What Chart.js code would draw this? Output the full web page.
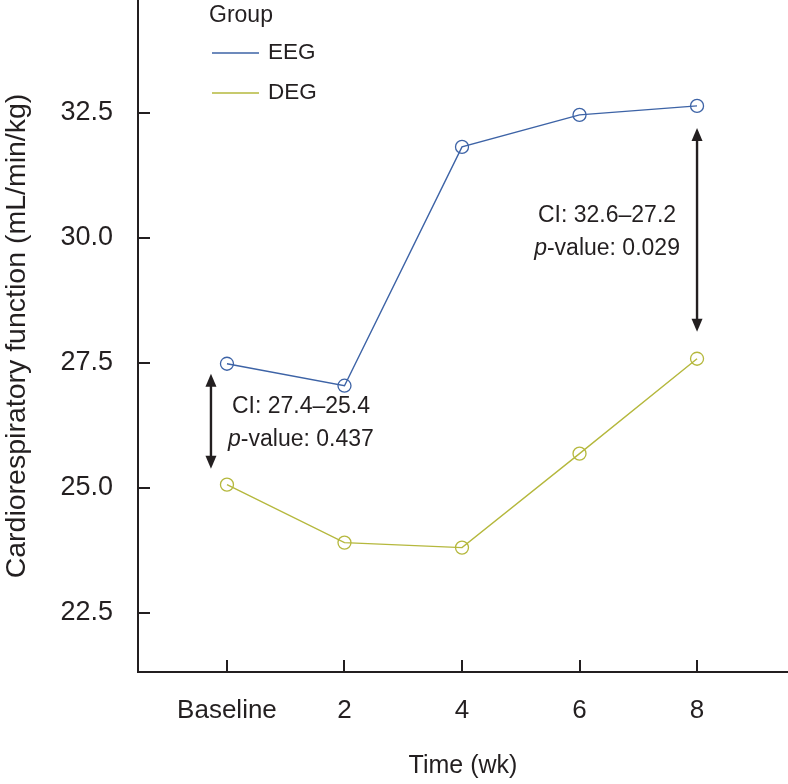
<!DOCTYPE html>
<html>
<head>
<meta charset="utf-8">
<script src="https://cdn.jsdelivr.net/npm/chart.js@4/dist/chart.umd.min.js"></script>
<style>
  html, body { margin: 0; padding: 0; background: #fff; }
  canvas { display: block; }
</style>
</head>
<body>
<canvas id="chart" width="788" height="784"></canvas>
<script>
// x categories and y tick values
const timepoints = ['Baseline', '2', '4', '6', '8'];
const yTicks = [22.5, 25.0, 27.5, 30.0, 32.5];

// group means (mL/min/kg)
const eegValues = [27.48, 27.04, 31.82, 32.46, 32.64];
const degValues = [25.06, 23.90, 23.80, 25.68, 27.58];

// CI annotations: category index, arrow top / bottom values, texts
const ciAt = [0, 4];
const ciTop = [27.28, 32.20];
const ciBottom = [25.38, 28.12];
const ciLabels = ['CI: 27.4–25.4', 'CI: 32.6–27.2'];
const pValues = ['0.437', '0.029'];

const FONT = "'Liberation Sans', Arial, Helvetica, sans-serif";
const INK = '#231f20';
const BLUE = '#3d63a6';
const OLIVE = '#b5b83d';

// legend, CI arrows and their labels
const overlay = {
  id: 'overlay',
  afterDatasetsDraw(chart) {
    const ctx = chart.ctx;
    const xs = chart.scales.x, ys = chart.scales.y;
    ctx.save();

    // legend
    ctx.fillStyle = INK;
    ctx.textBaseline = 'middle';
    ctx.textAlign = 'left';
    ctx.font = '23px ' + FONT;
    ctx.fillText('Group', 209, 16);
    chart.data.datasets.forEach((ds, i) => {
      const y = 53 + i * 40;
      ctx.strokeStyle = ds.borderColor;
      ctx.lineWidth = 1.6;
      ctx.beginPath();
      ctx.moveTo(212, y);
      ctx.lineTo(259, y);
      ctx.stroke();
      ctx.fillStyle = INK;
      ctx.font = '22.5px ' + FONT;
      ctx.fillText(ds.label, 268, y);
    });

    // CI arrows
    const shift = [-16, 0];   // px nudge of the arrow from its category
    const side = [1, -1];     // text to the right / left of the arrow
    ciAt.forEach((c, i) => {
      const x = xs.getPixelForValue(c) + shift[i];
      const y1 = ys.getPixelForValue(ciTop[i]);
      const y2 = ys.getPixelForValue(ciBottom[i]);
      const head = 13, hw = 5.5;
      ctx.strokeStyle = INK;
      ctx.fillStyle = INK;
      ctx.lineWidth = 2.4;
      ctx.beginPath();
      ctx.moveTo(x, y1 + head - 1);
      ctx.lineTo(x, y2 - head + 1);
      ctx.stroke();
      ctx.beginPath();
      ctx.moveTo(x, y1); ctx.lineTo(x - hw, y1 + head); ctx.lineTo(x + hw, y1 + head);
      ctx.closePath(); ctx.fill();
      ctx.beginPath();
      ctx.moveTo(x, y2); ctx.lineTo(x - hw, y2 - head); ctx.lineTo(x + hw, y2 - head);
      ctx.closePath(); ctx.fill();

      // labels
      const cx = x + side[i] * 90;
      const cy = (y1 + y2) / 2 + 2;
      const normal = '23px ' + FONT;
      const italic = 'italic 23px ' + FONT;
      ctx.textAlign = 'center';
      ctx.font = normal;
      ctx.fillText(ciLabels[i], cx, cy - 16.5);
      ctx.font = italic;
      const wp = ctx.measureText('p').width;
      ctx.font = normal;
      const rest = '-value: ' + pValues[i];
      const wr = ctx.measureText(rest).width;
      const left = cx - (wp + wr) / 2;
      ctx.textAlign = 'left';
      ctx.font = italic;
      ctx.fillText('p', left, cy + 16.5);
      ctx.font = normal;
      ctx.fillText(rest, left + wp, cy + 16.5);
    });
    ctx.restore();
  }
};

new Chart(document.getElementById('chart'), {
  type: 'line',
  data: {
    datasets: [
      {
        label: 'EEG',
        data: eegValues.map((v, i) => ({ x: i, y: v })),
        borderColor: BLUE,
        borderWidth: 1.4,
        pointRadius: 6.5,
        pointBorderWidth: 1.3,
        pointBorderColor: BLUE,
        pointBackgroundColor: 'rgba(0,0,0,0)',
        tension: 0
      },
      {
        label: 'DEG',
        data: degValues.map((v, i) => ({ x: i, y: v })),
        borderColor: OLIVE,
        borderWidth: 1.4,
        pointRadius: 6.5,
        pointBorderWidth: 1.3,
        pointBorderColor: OLIVE,
        pointBackgroundColor: 'rgba(0,0,0,0)',
        tension: 0
      }
    ]
  },
  options: {
    responsive: false,
    animation: false,
    devicePixelRatio: 1,
    layout: { padding: 0, autoPadding: false },
    plugins: {
      legend: { display: false },
      tooltip: { enabled: false }
    },
    scales: {
      x: {
        type: 'linear',
        min: -0.757,
        max: 4.774,
        afterFit: s => { s.height = 112; s.paddingLeft = 0; s.paddingRight = 0; },
        afterBuildTicks: s => { s.ticks = timepoints.map((_, i) => ({ value: i })); },
        ticks: {
          callback: v => timepoints[v],
          font: { family: FONT, size: 26 },
          color: INK,
          padding: 35,
          maxRotation: 0
        },
        grid: { drawOnChartArea: false, drawTicks: true, tickLength: -12, color: INK, lineWidth: 2 },
        border: { display: true, color: INK, width: 2 },
        title: {
          display: true,
          text: 'Time (wk)',
          font: { family: FONT, size: 25, lineHeight: 1 },
          color: INK,
          padding: { top: 0, bottom: 5.5 }
        }
      },
      y: {
        min: 21.31,
        max: 34.76,
        afterFit: s => { s.width = 138; s.paddingTop = 0; s.paddingBottom = 0; },
        afterBuildTicks: s => { s.ticks = yTicks.map(v => ({ value: v })); },
        ticks: {
          callback: v => v.toFixed(1),
          font: { family: FONT, size: 27 },
          color: INK,
          padding: 37
        },
        grid: { drawOnChartArea: false, drawTicks: true, tickLength: -12, color: INK, lineWidth: 2 },
        border: { display: true, color: INK, width: 2 },
        title: {
          display: true,
          text: 'Cardiorespiratory function (mL/min/kg)',
          font: { family: FONT, size: 28.5, lineHeight: 1 },
          color: INK,
          padding: { top: 3, bottom: 0 }
        }
      }
    }
  },
  plugins: [overlay]
});
</script>
</body>
</html>
